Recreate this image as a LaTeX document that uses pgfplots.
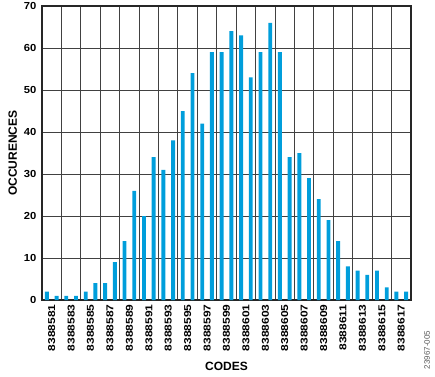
\documentclass[border=0pt]{standalone}
\usepackage{fontspec}
\setmainfont{Liberation Sans}
\usepackage{pgfplots}
\pgfplotsset{compat=1.18}
\definecolor{barblue}{RGB}{0,158,219}
\definecolor{gridgray}{RGB}{65,65,65}
\begin{document}
\begin{tikzpicture}
\begin{axis}[
  at={(42pt,-300pt)}, anchor=south west,
  scale only axis, width=369pt, height=294pt,
  xmin=-0.5, xmax=37.5, ymin=0, ymax=70,
  ytick={0,10,...,70},
  xtick={0.5,2.5,...,36.5},
  xticklabels={8388581,8388583,8388585,8388587,8388589,8388591,8388593,8388595,8388597,8388599,8388601,8388603,8388605,8388607,8388609,8388611,8388613,8388615,8388617},
  minor xtick={1.5,3.5,...,35.5},
  ymajorgrids, xminorgrids,
  major grid style={gridgray, line width=1pt},
  minor grid style={gridgray, line width=1pt},
  axis line style={black!85, line width=1.1pt},
  major tick length=0pt, minor tick length=0pt,
  /pgf/number format/assume math mode=true,
  yticklabel style={xshift=-2pt, font=\bfseries\fontsize{10.2}{12}\selectfont\addfontfeature{FakeStretch=1.1}},
  xticklabel style={rotate=90, anchor=east, xshift=-1pt, font=\bfseries\fontsize{10}{12}\selectfont\addfontfeature{FakeStretch=1.2}},
  xlabel={CODES}, ylabel={OCCURENCES},
  label style={font=\bfseries\fontsize{12}{14}\selectfont},
  xlabel style={at={(axis description cs:0.5,-0.2245)}, anchor=center},
  ylabel style={at={(axis description cs:-0.0794,0.5)}, anchor=center},
]
\addplot[ybar, bar width=0.4, fill=barblue, draw=none] coordinates {
(0,2) (1,1) (2,1) (3,1) (4,2) (5,4) (6,4) (7,9) (8,14) (9,26)
(10,20) (11,34) (12,31) (13,38) (14,45) (15,54) (16,42) (17,59) (18,59) (19,64)
(20,63) (21,53) (22,59) (23,66) (24,59) (25,34) (26,35) (27,29) (28,24) (29,19)
(30,14) (31,8) (32,7) (33,6) (34,7) (35,3) (36,2) (37,2)
};
\end{axis}
\node[rotate=90, anchor=center, text=black!65, font=\fontsize{8}{9}\selectfont] at (427pt,-350pt) {23967-005};
\pgfresetboundingbox
\path[use as bounding box] (0,0) rectangle (435pt,-376pt);
\end{tikzpicture}
\end{document}
